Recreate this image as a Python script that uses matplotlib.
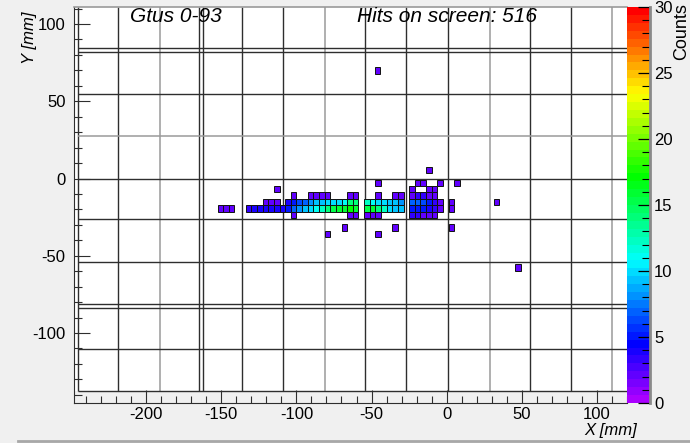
import colorsys
import matplotlib
matplotlib.use('Agg')
import matplotlib.pyplot as plt
import numpy as np
from matplotlib.colors import ListedColormap, Normalize
from matplotlib.cm import ScalarMappable
from matplotlib.ticker import MultipleLocator

plt.rcParams['font.family'] = ['Liberation Sans', 'DejaVu Sans']
plt.rcParams['axes.unicode_minus'] = False

# Histogram binning (mm): regular columns, rows listed top to bottom
col_x = np.arange(50) * 3.75 - 150.6
row_y = [5.4, 1.3, -2.9, -7.0, -11.1, -15.3, -19.4, -23.6, -27.7, -31.8, -36.0]
bin_w = 3.75
bin_h = 4.1

# Counts per bin, one row per entry of row_y, one column per entry of col_x
hit_counts = [
    [0,0,0,0,0,0,0,0,0,0, 0,0,0,0,0,0,0,0,0,0, 0,0,0,0,0,0,0,0,0,0, 0,0,0,0,0,0,0,2,0,0, 0,0,0,0,0,0,0,0,0,0],
    [0,0,0,0,0,0,0,0,0,0, 0,0,0,0,0,0,0,0,0,0, 0,0,0,0,0,0,0,0,0,0, 0,0,0,0,0,0,0,0,0,0, 0,0,0,0,0,0,0,0,0,0],
    [0,0,0,0,0,0,0,0,0,0, 0,0,0,0,0,0,0,0,0,0, 0,0,0,0,0,0,0,0,2,0, 0,0,0,0,0,2,2,0,0,2, 0,0,2,0,0,0,0,0,0,0],
    [0,0,0,0,0,0,0,0,0,0, 2,0,0,0,0,0,0,0,0,0, 0,0,0,0,0,0,0,0,0,0, 0,0,0,0,2,0,0,2,2,0, 0,0,0,0,0,0,0,0,0,0],
    [0,0,0,0,0,0,0,0,0,0, 0,0,0,2,0,0,2,2,2,2, 0,0,0,2,2,0,0,0,2,0, 0,2,2,0,2,3,3,2,2,0, 0,0,0,0,0,0,0,0,0,0],
    [0,0,0,0,0,0,0,0,2,2, 2,0,4,5,6,7,8,9,9,10, 10,10,11,14,14,0,12,11,10,10, 9,9,8,0,7,7,6,5,3,2, 0,2,0,0,0,0,0,0,0,2],
    [2,2,2,0,0,3,4,4,4,4, 4,4,5,7,8,9,10,11,12,14, 15,16,16,17,16,0,15,16,14,12, 10,9,9,0,5,5,5,4,3,2, 0,2,0,0,0,0,0,0,0,0],
    [0,0,0,0,0,0,0,0,0,0, 0,0,0,2,0,0,0,0,0,0, 0,0,0,2,2,0,2,2,2,0, 0,0,0,0,3,3,2,2,2,0, 0,0,0,0,0,0,0,0,0,0],
    [0,0,0,0,0,0,0,0,0,0, 0,0,0,0,0,0,0,0,0,0, 0,0,0,0,0,0,0,0,0,0, 0,0,0,0,0,0,0,0,0,0, 0,0,0,0,0,0,0,0,0,0],
    [0,0,0,0,0,0,0,0,0,0, 0,0,0,0,0,0,0,0,0,0, 0,0,2,0,0,0,0,0,0,0, 0,2,0,0,0,0,0,0,0,0, 0,2,0,0,0,0,0,0,0,0],
    [0,0,0,0,0,0,0,0,0,0, 0,0,0,0,0,0,0,0,0,2, 0,0,0,0,0,0,0,0,2,0, 0,0,0,0,0,0,0,0,0,0, 0,0,0,0,0,0,0,0,0,0],
]

# Isolated hits away from the main cluster
lone_x = [-46.0, 47.5]
lone_y = [70.0, -57.5]
lone_counts = [2, 2]

# Screen module borders and pixel grid (mm)
dark_vlines = [-245.3, -218.7, -164.8, -162.1, -136.2, -108.9, -54.4, -27.1, 0.9, 55.4, 82.7]
gray_vlines = [-190.8, -81.0, 28.8, 110.0]
dark_hlines = [84.5, 82.0, 54.7, 0.0, -26.4, -54.2, -81.2, -83.6, -110.4, -137.6]
gray_hlines = [27.5]

x_range = (-248, 120)
y_range = (-145.3, 111)
z_max = 30

BG = '#f0f0f0'
DARK = '#2e2e2e'
GRAY = '#9a9a9a'

# ROOT-like violet -> red palette with 50 steps
hues = np.linspace(280, 0, 50) / 360.0
palette = ListedColormap([colorsys.hls_to_rgb(h, 0.5, 1.0) for h in hues])
norm = Normalize(0, z_max)

W, H = 690, 443
fig = plt.figure(figsize=(W / 100, H / 100), dpi=100, facecolor=BG)
ax = fig.add_axes([74 / W, 40 / H, 553 / W, 396 / H])
cax = fig.add_axes([627 / W, 40 / H, 23 / W, 396 / H])

ax.set_facecolor('white')
ax.set_xlim(*x_range)
ax.set_ylim(*y_range)

# strip below the modules has the canvas colour
ax.axhspan(y_range[0], -137.6, color=BG, lw=0, zorder=0.5)

# screen structure
ax.vlines(dark_vlines, -137.6, y_range[1], colors=DARK, lw=1.0, zorder=1)
ax.vlines(gray_vlines, -137.6, y_range[1], colors=GRAY, lw=1.1, zorder=1)
ax.hlines(dark_hlines, -245.3, x_range[1], colors=DARK, lw=1.0, zorder=1)
ax.hlines(gray_hlines, -245.3, x_range[1], colors=GRAY, lw=1.1, zorder=1)

# histogram cells
counts = np.array(hit_counts)
rows, cols = np.nonzero(counts)
cell_x = col_x[cols]
cell_y = np.array(row_y)[rows]
cell_c = counts[rows, cols]
ax.bar(cell_x, bin_h, width=bin_w, bottom=cell_y - bin_h / 2,
       color=palette(norm(cell_c)), edgecolor='#111111', linewidth=0.7, zorder=3)
ax.bar(lone_x, bin_h, width=bin_w, bottom=np.array(lone_y) - bin_h / 2,
       color=palette(norm(np.array(lone_counts))), edgecolor='#111111', linewidth=0.7, zorder=3)

# axes styling
for side in ['top', 'right']:
    ax.spines[side].set_visible(False)
ax.spines['left'].set_color(DARK)
ax.spines['bottom'].set_color(DARK)
ax.plot([0, 1], [1, 1], transform=ax.transAxes, color=GRAY, lw=1.2, clip_on=False, zorder=4)

ax.xaxis.set_major_locator(MultipleLocator(50))
ax.xaxis.set_minor_locator(MultipleLocator(10))
ax.yaxis.set_major_locator(MultipleLocator(50))
ax.yaxis.set_minor_locator(MultipleLocator(10))
ax.tick_params(axis='x', which='major', direction='in', length=9.1, width=0.8,
               labelsize=12, pad=3, color=DARK)
ax.tick_params(axis='x', which='minor', direction='in', length=4.8, width=0.8, color=DARK)
ax.tick_params(axis='y', which='major', direction='in', length=11.5, width=0.8,
               labelsize=12, pad=6, color=DARK)
ax.tick_params(axis='y', which='minor', direction='in', length=5.5, width=0.8, color=DARK)
ax.tick_params(top=False, right=False, which='both')

# colour scale
sm = ScalarMappable(norm=norm, cmap=palette)
cb = fig.colorbar(sm, cax=cax, ticks=range(0, 31, 5))
cb.outline.set_visible(False)
cax.yaxis.set_minor_locator(MultipleLocator(1))
cax.tick_params(which='major', direction='in', length=8.6, width=0.9, labelsize=12, pad=3, color='black')
cax.tick_params(which='minor', direction='in', length=5.8, width=0.8, color='black')
cax.plot([1, 1], [0, 1], transform=cax.transAxes, color='#8a8a8a', lw=2.0, clip_on=False)

# texts
fig.text(130 / W, 1 - 16.5 / H, 'Gtus 0-93', fontsize=15, style='italic', ha='left', va='center')
fig.text(357 / W, 1 - 16.5 / H, 'Hits on screen: 516', fontsize=15, style='italic', ha='left', va='center')
fig.text(29.5 / W, 1 - 11 / H, 'Y [mm]', fontsize=12, style='italic', rotation=90, ha='center', va='top')
fig.text(637 / W, 1 - 430 / H, 'X [mm]', fontsize=12, style='italic', ha='right', va='center')
fig.text(682 / W, 1 - 3 / H, 'Counts', fontsize=13, rotation=90, ha='center', va='top')

# canvas edge at the bottom
fig.add_artist(plt.Line2D([18 / W, 1], [2 / H, 2 / H], transform=fig.transFigure, color='#a8a8a8', lw=2))

fig.savefig('out.png', dpi=100, facecolor=BG)
